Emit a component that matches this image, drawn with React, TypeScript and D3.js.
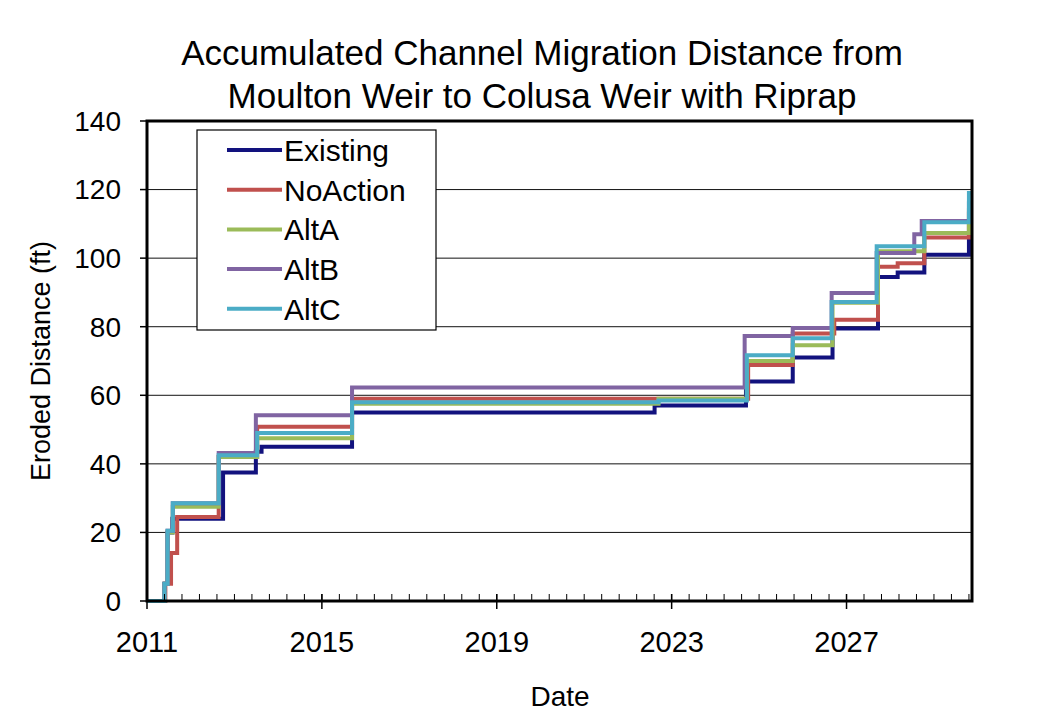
import React from 'react';
import * as d3 from 'd3';

// chart text
const titleLines = ['Accumulated Channel Migration Distance from', 'Moulton Weir to Colusa Weir with Riprap'];
const seriesNames = ['Existing', 'NoAction', 'AltA', 'AltB', 'AltC'];
const seriesColors = ['#12127E', '#C0504D', '#9BBB59', '#8064A2', '#4BACC6'];
const yTicks = [0, 20, 40, 60, 80, 100, 120, 140];
const xTickYears = [2011, 2015, 2019, 2023, 2027];

// step points (decimal year, ft)
const existingX = [2011.0, 2011.40, 2011.47, 2011.58, 2012.74, 2013.49, 2013.62, 2015.69, 2022.61, 2024.70, 2025.77, 2026.68, 2027.72, 2028.17, 2028.78, 2029.80, 2029.87];
const existingY = [0, 5, 20, 24, 37.5, 43.5, 45, 55, 57, 64, 71, 79.5, 94.5, 95.8, 101, 110, 110];

const noActionX = [2011.0, 2011.42, 2011.55, 2011.69, 2012.64, 2013.52, 2015.69, 2024.75, 2025.77, 2026.72, 2027.72, 2028.17, 2028.78, 2029.80, 2029.87];
const noActionY = [0, 5, 14, 24.5, 42, 50.8, 59, 68.8, 78, 82, 97.5, 98.5, 106, 113, 113];

const altAX = [2011.0, 2011.40, 2011.47, 2011.59, 2012.64, 2013.52, 2015.69, 2022.70, 2024.72, 2025.77, 2026.68, 2027.72, 2028.78, 2029.80, 2029.87];
const altAY = [0, 5, 20, 27.5, 42, 47.5, 57.5, 59, 70, 74.6, 87, 102, 107.3, 114, 114];

const altBX = [2011.0, 2011.40, 2011.47, 2011.59, 2012.64, 2013.49, 2015.69, 2024.67, 2025.77, 2026.66, 2027.69, 2028.55, 2028.72, 2029.80, 2029.87];
const altBY = [0, 5, 20.5, 28.5, 43.2, 54.2, 62.3, 77.3, 79.6, 89.8, 101.5, 107, 110.8, 116, 116];

const altCX = [2011.0, 2011.40, 2011.47, 2011.59, 2012.64, 2013.52, 2015.69, 2022.70, 2024.72, 2025.77, 2026.66, 2027.69, 2028.78, 2029.80, 2029.87];
const altCY = [0, 5, 20.5, 28.5, 42.5, 49, 58, 58.5, 71.7, 76.6, 87.2, 103.5, 110.5, 119, 119];

const seriesX = [existingX, noActionX, altAX, altBX, altCX];
const seriesY = [existingY, noActionY, altAY, altBY, altCY];

const W = 1040;
const H = 728;
const plot = { left: 147, right: 972, top: 121, bottom: 601 };
const legendBox = { x: 197, y: 130, w: 239, h: 200 };
const font = '"Liberation Sans", Arial, sans-serif';

const App = () => {
    const x = d3.scaleLinear().domain([2011, 2029.87]).range([plot.left, plot.right]);
    const y = d3.scaleLinear().domain([0, 140]).range([plot.bottom, plot.top]);

    const line = d3.line<[number, number]>()
        .x(d => x(d[0]))
        .y(d => y(d[1]))
        .curve(d3.curveStepAfter);

    const minorTicks = d3.range(2011, 2029.87, 0.4);

    return (
        <div style={{ margin: -8 }}>
            <svg width={W} height={H} style={{ display: 'block', fontFamily: font }}>
                <rect x={0} y={0} width={W} height={H} fill="#fff" />
                <rect x={4} y={4} width={W - 8} height={H - 8} fill="none" stroke="#777" strokeWidth={1.5} />

                {titleLines.map((t, i) => (
                    <text key={i} x={542} y={65 + i * 43} textAnchor="middle" fontSize={35} fill="#000">{t}</text>
                ))}

                <defs>
                    <clipPath id="plotClip">
                        <rect x={plot.left} y={plot.top - 4} width={plot.right - plot.left} height={plot.bottom - plot.top + 6} />
                    </clipPath>
                </defs>

                {/* gridlines */}
                {yTicks.filter(v => v > 0 && v < 140).map(v => (
                    <line key={v} x1={plot.left} x2={plot.right} y1={y(v)} y2={y(v)} stroke="#111" strokeWidth={1} />
                ))}

                {/* series */}
                <g clipPath="url(#plotClip)">
                    {seriesNames.map((name, i) => {
                        const pts = seriesX[i].map((d, j) => [d, seriesY[i][j]] as [number, number]);
                        return (
                            <path key={name} d={line(pts) || ''} fill="none" stroke={seriesColors[i]} strokeWidth={4} strokeLinejoin="miter" />
                        );
                    })}
                </g>

                {/* frame */}
                <rect x={plot.left} y={plot.top} width={plot.right - plot.left} height={plot.bottom - plot.top} fill="none" stroke="#000" strokeWidth={3} />

                {/* y axis ticks and labels */}
                {yTicks.map(v => (
                    <g key={v}>
                        <line x1={plot.left - 7} x2={plot.left} y1={y(v)} y2={y(v)} stroke="#000" strokeWidth={1.5} />
                        <text x={121} y={y(v)} dy="0.35em" textAnchor="end" fontSize={28}>{v}</text>
                    </g>
                ))}

                {/* x axis ticks */}
                {minorTicks.map((v, i) => (
                    <line key={i} x1={x(v)} x2={x(v)} y1={plot.bottom} y2={plot.bottom - 7} stroke="#000" strokeWidth={1} />
                ))}
                {xTickYears.map(v => (
                    <g key={v}>
                        <line x1={x(v)} x2={x(v)} y1={plot.bottom - 7} y2={plot.bottom + 8} stroke="#000" strokeWidth={1.5} />
                        <text x={x(v)} y={652} textAnchor="middle" fontSize={29}>{v}</text>
                    </g>
                ))}

                <text x={560} y={706} textAnchor="middle" fontSize={28}>Date</text>
                <text transform={`translate(50,${(plot.top + plot.bottom) / 2}) rotate(-90)`} textAnchor="middle" fontSize={27}>Eroded Distance (ft)</text>

                {/* legend */}
                <g>
                    <rect x={legendBox.x} y={legendBox.y} width={legendBox.w} height={legendBox.h} fill="#fff" stroke="#000" strokeWidth={1.2} />
                    {seriesNames.map((name, i) => {
                        const ly = 150 + i * 39.7;
                        return (
                            <g key={name}>
                                <line x1={227} x2={282} y1={ly} y2={ly} stroke={seriesColors[i]} strokeWidth={4} />
                                <text x={284} y={ly} dy="0.36em" fontSize={30}>{name}</text>
                            </g>
                        );
                    })}
                </g>
            </svg>
        </div>
    );
};

export default App;
